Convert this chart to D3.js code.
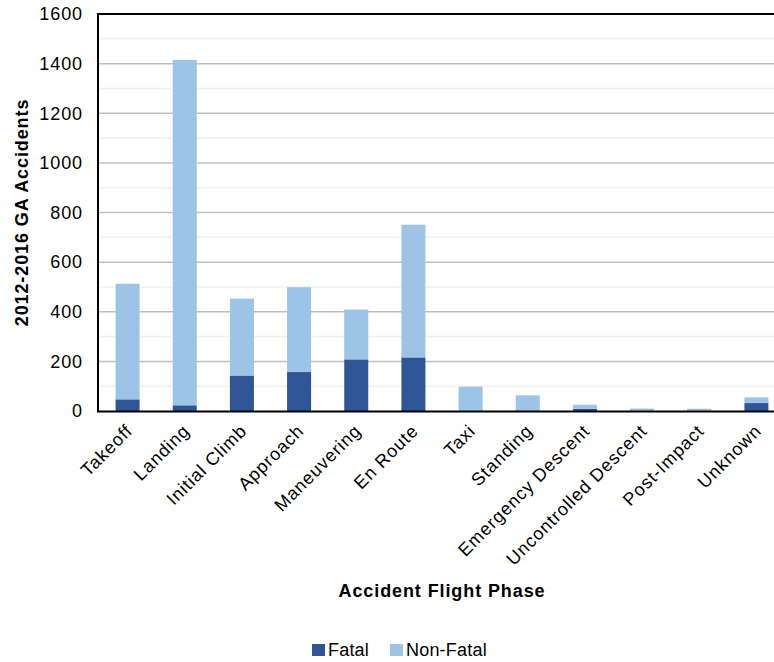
<!DOCTYPE html>
<html>
<head>
<meta charset="utf-8">
<script src="https://cdn.jsdelivr.net/npm/d3@7"></script>
<style>
  html, body { margin: 0; padding: 0; background: #fff; overflow: hidden; }
  svg { display: block; font-family: "Liberation Sans", Arial, sans-serif; }
</style>
</head>
<body>
<svg id="chart" width="774" height="662"></svg>
<script>
// Accident counts by flight phase, 2012-2016
const phases = ["Takeoff", "Landing", "Initial Climb", "Approach", "Maneuvering", "En Route",
  "Taxi", "Standing", "Emergency Descent", "Uncontrolled Descent", "Post-Impact", "Unknown"];
const fatal    = [47, 23, 143, 157, 208, 216, 0, 0, 9, 0, 0, 32];
const nonFatal = [466, 1392, 310, 342, 201, 535, 98, 63, 16, 10, 9, 23];
const yTicks = [0, 200, 400, 600, 800, 1000, 1200, 1400, 1600];
const yMinor = [100, 300, 500, 700, 900, 1100, 1300, 1500];
const seriesNames = ["Fatal", "Non-Fatal"];
const colors = ["#2F5597", "#9DC3E6"];

const svg = d3.select("#chart");
const m = { left: 99, right: 785, top: 14, bottom: 411 };

const x = d3.scaleBand().domain(phases).range([m.left, m.right]).paddingInner(0.58).paddingOuter(0.29);
const y = d3.scaleLinear().domain([0, 1600]).range([m.bottom, m.top]);

const rows = phases.map((p, i) => ({ phase: p, Fatal: fatal[i], "Non-Fatal": nonFatal[i] }));
const stacked = d3.stack().keys(seriesNames)(rows);

// gridlines
svg.append("g").selectAll("line").data(yMinor).join("line")
  .attr("x1", m.left).attr("x2", m.right)
  .attr("y1", d => y(d)).attr("y2", d => y(d))
  .attr("stroke", "#f0f0f0").attr("stroke-width", 1.5);
svg.append("g").selectAll("line").data(yTicks.filter(d => d > 0 && d < 1600)).join("line")
  .attr("x1", m.left).attr("x2", m.right)
  .attr("y1", d => y(d)).attr("y2", d => y(d))
  .attr("stroke", "#bfbfbf").attr("stroke-width", 1.5);

// stacked bars
svg.append("g").selectAll("g").data(stacked).join("g")
  .attr("fill", (d, i) => colors[i])
  .selectAll("rect").data(d => d).join("rect")
  .attr("x", d => x(d.data.phase))
  .attr("width", x.bandwidth())
  .attr("y", d => y(d[1]))
  .attr("height", d => y(d[0]) - y(d[1]));

// frame: top, left, bottom
svg.append("line").attr("x1", m.left).attr("x2", m.right).attr("y1", m.top).attr("y2", m.top)
  .attr("stroke", "#000").attr("stroke-width", 2);
svg.append("line").attr("x1", m.left - 1).attr("x2", m.left - 1).attr("y1", m.top - 1).attr("y2", m.bottom + 1)
  .attr("stroke", "#000").attr("stroke-width", 2);
svg.append("line").attr("x1", m.left - 2).attr("x2", m.right).attr("y1", m.bottom + 0.5).attr("y2", m.bottom + 0.5)
  .attr("stroke", "#000").attr("stroke-width", 2);

// y axis labels
const yAxis = d3.axisLeft(y).tickValues(yTicks).tickFormat(d3.format("d")).tickSize(0).tickPadding(16);
const gy = svg.append("g").attr("transform", `translate(${m.left},0)`).call(yAxis);
gy.select(".domain").remove();
gy.selectAll("text").attr("font-size", 18).attr("letter-spacing", 0.9)
  .attr("fill", "#000").style("font-family", "Liberation Sans, Arial, sans-serif");

// x axis labels (rotated)
const xAxis = d3.axisBottom(x).tickSize(0).tickPadding(0);
const gx = svg.append("g").attr("transform", `translate(0,${m.bottom})`).call(xAxis);
gx.select(".domain").remove();
gx.selectAll("text")
  .attr("font-size", 18).attr("letter-spacing", 0.9).attr("fill", "#000")
  .style("font-family", "Liberation Sans, Arial, sans-serif")
  .attr("text-anchor", "end")
  .attr("dy", null).attr("y", 0)
  .attr("transform", "translate(6,21) rotate(-45)");

// axis titles
svg.append("text")
  .attr("transform", `translate(28,${(m.top + m.bottom) / 2}) rotate(-90)`)
  .attr("text-anchor", "middle").attr("font-size", 18).attr("font-weight", "bold")
  .attr("letter-spacing", 0.9).text("2012-2016 GA Accidents");
svg.append("text")
  .attr("x", (m.left + m.right) / 2).attr("y", 597)
  .attr("text-anchor", "middle").attr("font-size", 18).attr("font-weight", "bold")
  .attr("letter-spacing", 0.9).text("Accident Flight Phase");

// legend
const legendX = [312, 390];
const lg = svg.append("g").selectAll("g").data(seriesNames).join("g")
  .attr("transform", (d, i) => `translate(${legendX[i]},644)`);
lg.append("rect").attr("width", 13).attr("height", 12).attr("fill", (d, i) => colors[i]);
lg.append("text").attr("x", 16).attr("y", 12).attr("font-size", 18).attr("letter-spacing", 0.2)
  .text(d => d);
</script>
</body>
</html>
